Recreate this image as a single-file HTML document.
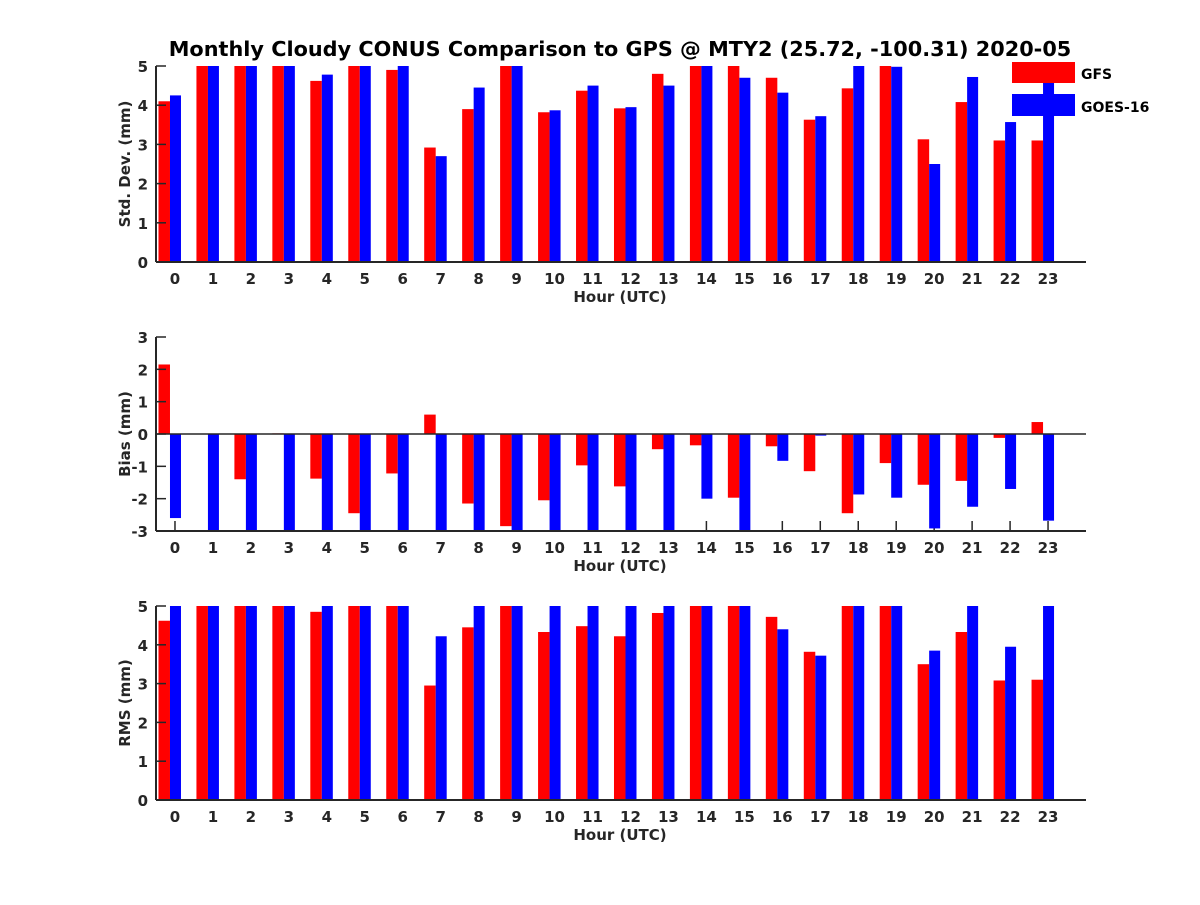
<!DOCTYPE html>
<html><head><meta charset="utf-8"><style>
body{margin:0;background:#fff}
svg text{font-family:"DejaVu Sans","Liberation Sans",sans-serif;font-weight:bold;fill:#262626}
</style></head><body>
<svg id="c" width="1200" height="900" xmlns="http://www.w3.org/2000/svg">
<text x="620" y="56" font-size="20.8" text-anchor="middle" style="fill:#000">Monthly Cloudy CONUS Comparison to GPS @ MTY2 (25.72, -100.31) 2020-05</text>
</svg>
<script>
const hours=[0,1,2,3,4,5,6,7,8,9,10,11,12,13,14,15,16,17,18,19,20,21,22,23];
const stdGFS=[4.1,5,5,5,4.62,5,4.9,2.92,3.9,5,3.82,4.37,3.92,4.8,5,5,4.7,3.63,4.43,5,3.13,4.08,3.1,3.1];
const stdGOES=[4.25,5,5,5,4.78,5,5,2.7,4.45,5,3.87,4.5,3.95,4.5,5,4.7,4.32,3.72,5,4.98,2.5,4.72,3.57,5];
const biasGFS=[2.15,null,-1.4,0.02,-1.38,-2.45,-1.22,0.6,-2.15,-2.85,-2.05,-0.97,-1.62,-0.47,-0.35,-1.97,-0.38,-1.15,-2.45,-0.9,-1.57,-1.45,-0.12,0.37];
const biasGOES=[-2.6,-3,-3,-3,-3,-3,-3,-3,-3,-3,-3,-3,-3,-3,-2.0,-3,-0.83,-0.05,-1.87,-1.97,-2.92,-2.25,-1.7,-2.68];
const rmsGFS=[4.62,5,5,5,4.85,5,5,2.95,4.45,5,4.33,4.48,4.22,4.82,5,5,4.72,3.82,5,5,3.5,4.33,3.08,3.1];
const rmsGOES=[5,5,5,5,5,5,5,4.22,5,5,5,5,5,5,5,5,4.4,3.72,5,5,3.85,5,3.95,5];
const stdTicks=[0,1,2,3,4,5];
const biasTicks=[-3,-2,-1,0,1,2,3];
const NS="http://www.w3.org/2000/svg";
const svg=document.getElementById('c');
function el(t,a,p){const e=document.createElementNS(NS,t);for(const k in a)e.setAttribute(k,a[k]);(p||svg).appendChild(e);return e;}
const X0=156,X1=1086;
function xs(h){return X0+(h+0.5)*(X1-X0)/24.5;}
function panel(name,top,bot,ymin,ymax,ticks,ylabel,red,blue){
  const g=el('g',{});
  
  
  const ys=v=>bot-(v-ymin)/(ymax-ymin)*(bot-top);
  const base=ys(Math.max(ymin,0));
  hours.forEach(h=>{
    const t=el('line',{x1:xs(h),x2:xs(h),y1:bot,y2:bot-10,stroke:'#262626','stroke-width':1.5},g);
    
    
    const l=el('text',{x:xs(h),y:bot+22,'font-size':15,'text-anchor':'middle'},g);l.textContent=h;
    
    
  });
  function bar(v,x0,w,c,n){
    if(v===null)return;
    const vv=Math.max(ymin,Math.min(ymax,v));
    const y=Math.min(ys(vv),base),hh=Math.abs(ys(vv)-base);
    const r=el('rect',{x:x0,y:y,width:w,height:Math.max(hh,0.8),fill:c},g);
    
    
  }
  hours.forEach((h,i)=>{
    bar(red[i],xs(h)-16.5,11.5,'#ff0000','bar-gfs');
    bar(blue[i],xs(h)-5,11,'#0000ff','bar-goes16');
  });
  el('line',{x1:X0,x2:X1,y1:bot,y2:bot,stroke:'#262626','stroke-width':2},g);
  el('line',{x1:X0,x2:X0,y1:top,y2:bot,stroke:'#262626','stroke-width':2},g);
  if(ymin<0) el('line',{x1:X0,x2:X1,y1:base,y2:base,stroke:'#262626','stroke-width':1.5},g);
  ticks.forEach(v=>{
    el('line',{x1:X0,x2:X0+10,y1:ys(v),y2:ys(v),stroke:'#262626','stroke-width':1.5},g);
    const l=el('text',{x:X0-8,y:ys(v)+6,'font-size':15,'text-anchor':'end'},g);l.textContent=v;
    
    
  });
  const xl=el('text',{x:620,y:bot+40,'font-size':15,'text-anchor':'middle'},g);xl.textContent='Hour (UTC)';
  
  
  const cy=(top+bot)/2;
  const yl=el('text',{x:130,y:cy,'font-size':15,'text-anchor':'middle',transform:`rotate(-90 130 ${cy})`},g);yl.textContent=ylabel;
  
  
}
panel('std',66,262,0,5,stdTicks,'Std. Dev. (mm)',stdGFS,stdGOES);
panel('bias',337,531,-3,3,biasTicks,'Bias (mm)',biasGFS,biasGOES);
panel('rms',606,800,0,5,stdTicks,'RMS (mm)',rmsGFS,rmsGOES);
const lg=el('g',{});


el('rect',{x:1012,y:62,width:63,height:21,fill:'#ff0000'},lg);
el('rect',{x:1012,y:94,width:63,height:22,fill:'#0000ff'},lg);
const t1=el('text',{x:1081,y:79,'font-size':14,style:'fill:#000'},lg);t1.textContent='GFS';


const t2=el('text',{x:1081,y:112,'font-size':14,style:'fill:#000'},lg);t2.textContent='GOES-16';


</script>
</body></html>
